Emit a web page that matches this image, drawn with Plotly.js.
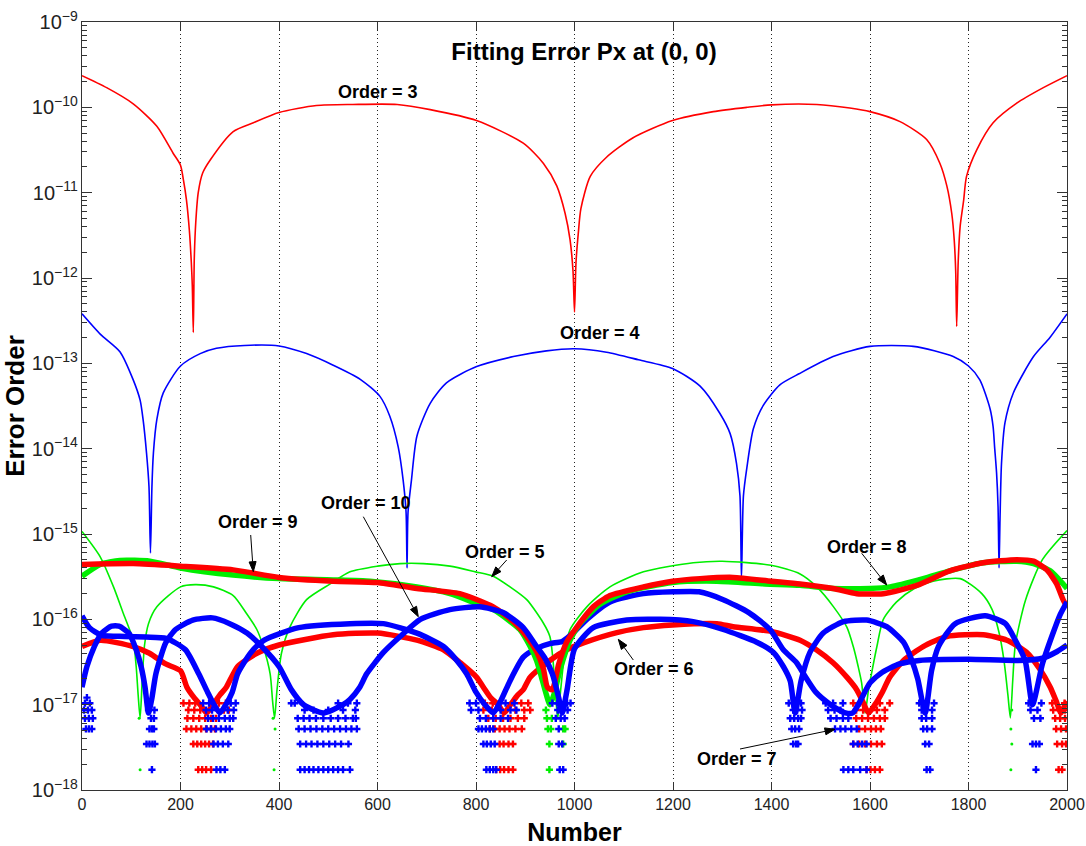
<!DOCTYPE html>
<html>
<head>
<meta charset="utf-8">
<script src="https://cdn.plot.ly/plotly-3.0.1.min.js"></script>
<style>html,body{margin:0;padding:0;background:#fff;}#chart{width:1086px;height:846px;}</style>
</head>
<body>
<div id="chart"></div>
<script>
// ---- Order 3 (red, thin) ----
const x3 = [0,50,104,152,185,200,206,212,218,222,224,226,228,231,236,245,260,307,348,400,476,550,640,707,801,896,937,964,981,991,997,1000,1003,1008,1013,1032,1065,1119,1199,1282,1350,1400,1492,1559,1600,1661,1715,1742,1756,1766,1771,1774,1776,1779,1783,1790,1796,1817,1850,1898,1952,2000];
const y3 = [2.35e-10,1.7e-10,1.1e-10,6e-11,2.9e-11,2.1e-11,1.4e-11,8.3e-12,3.6e-12,1.5e-12,8e-13,2.3e-13,1.7e-12,4.5e-12,1e-11,1.7e-11,2.4e-11,5.2e-11,6.6e-11,8.7e-11,1.05e-10,1.08e-10,1.08e-10,9.4e-11,7e-11,3.8e-11,2.2e-11,1.2e-11,5.7e-12,2.8e-12,1.2e-12,4e-13,1.5e-12,3.5e-12,6.5e-12,1.55e-11,2.6e-11,4.4e-11,7e-11,8.9e-11,1.0e-10,1.07e-10,1.08e-10,9.8e-11,8.9e-11,6.8e-11,4.2e-11,2.2e-11,1.2e-11,5.7e-12,2.8e-12,1.2e-12,2.7e-13,1.5e-12,4e-12,8e-12,1.55e-11,3.2e-11,6.6e-11,1.12e-10,1.7e-10,2.35e-10];

// ---- Order 4 (blue, thin) ----
const x4 = [0,37,77,104,118,124,131,136,139,142,145,152,165,200,240,273,330,400,456,510,565,605,625,642,652,658,660,662,669,680,707,740,800,876,943,1000,1065,1130,1199,1255,1295,1316,1329,1336,1339,1343,1350,1363,1383,1417,1457,1525,1600,1688,1769,1800,1823,1844,1850,1853,1857,1860,1862,1864,1867,1874,1891,1932,1965,2000];
const y4 = [3.8e-13,2.2e-13,1.37e-13,6.4e-14,3.7e-14,2.2e-14,8.9e-15,3.6e-15,6e-16,3.6e-15,8.9e-15,2.2e-14,4.5e-14,9.3e-14,1.3e-13,1.5e-13,1.62e-13,1.6e-13,1.3e-13,9.5e-14,6.5e-14,4.1e-14,2.4e-14,1.05e-14,4.3e-15,1.8e-15,4e-16,1.8e-15,4.3e-15,1.4e-14,3.4e-14,5.9e-14,9.1e-14,1.2e-13,1.4e-13,1.48e-13,1.35e-13,1.1e-13,8.7e-14,5.4e-14,2.6e-14,1.5e-14,6.7e-15,2.8e-15,3e-16,2.8e-15,6e-15,1.7e-14,3.2e-14,5.6e-14,7.6e-14,1.2e-13,1.58e-13,1.58e-13,1.2e-13,9.3e-14,6.4e-14,2.9e-14,1.8e-14,1.05e-14,5.2e-15,2.1e-15,4e-16,1.5e-15,6.7e-15,2e-14,4.5e-14,1.2e-13,2e-13,3.8e-13];

// ---- Order 5 (green, thin) ----
const x5 = [0,37,64,84,104,110,114,118,122,127,135,152,200,230,267,307,334,355,368,382,387,391,396,405,422,456,504,544,600,646,693,747,799,835,869,903,937,950,956,962,966,972,980,991,1025,1072,1140,1241,1300,1399,1458,1492,1526,1553,1566,1576,1583,1590,1597,1603,1614,1627,1654,1690,1728,1783,1827,1848,1862,1872,1880,1885,1890,1895,1916,1950,2000];
const y5 = [1.07e-15,5.4e-16,2.4e-16,1.17e-16,5.7e-17,2.8e-17,1.3e-17,7e-18,1.8e-17,5e-17,8.9e-17,1.4e-16,2.4e-16,2.55e-16,2.4e-16,1.9e-16,1.17e-16,7.6e-17,4.8e-17,2.3e-17,1.1e-17,7e-18,1.5e-17,4e-17,8.1e-17,1.7e-16,2.6e-16,3.6e-16,4.2e-16,4.5e-16,4.5e-16,4.2e-16,3.6e-16,3.2e-16,2.4e-16,1.7e-16,9e-17,6.3e-17,3.5e-17,1.2e-17,7e-18,1.5e-17,4e-17,7.6e-17,1.4e-16,2.4e-16,3.6e-16,4.6e-16,4.8e-16,4.3e-16,3.4e-16,2.4e-16,1.4e-16,8.1e-17,4.8e-17,2.8e-17,1.8e-17,8e-18,1.5e-17,2.3e-17,4.8e-17,1e-16,1.6e-16,2.3e-16,2.8e-16,3e-16,2e-16,1.3e-16,7e-17,3.3e-17,1.3e-17,7e-18,2e-17,5e-17,1.7e-16,5e-16,1.1e-15];

// ---- Order 6 (red, noisy) ----
const x6 = [0,37,104,137,170,200,213,228,240,253,266,280,293,316,355,400,510,600,680,734,768,801,815,830,845,857,870,885,896,910,950,984,1018,1086,1140,1199,1289,1322,1400,1458,1491,1525,1553,1573,1585,1597,1610,1625,1640,1668,1708,1756,1830,1878,1918,1945,1966,1978,1988,1996,2000];
const y6 = [4.8e-17,5.7e-17,4.8e-17,4e-17,3e-17,2.5e-17,1.6e-17,1.2e-17,1e-17,8e-18,1e-17,1.3e-17,1.6e-17,2.8e-17,4e-17,5e-17,6.6e-17,6.9e-17,5.7e-17,4.4e-17,3.1e-17,2.1e-17,1.6e-17,1.2e-17,1e-17,8e-18,1e-17,1.3e-17,1.5e-17,2.1e-17,3.3e-17,4.4e-17,5.3e-17,7e-17,8e-17,8.6e-17,8.9e-17,8.2e-17,7.2e-17,5.7e-17,4.4e-17,3.1e-17,2.1e-17,1.5e-17,1.1e-17,8e-18,1e-17,1.4e-17,2.1e-17,3.3e-17,4.8e-17,6.3e-17,6.6e-17,5.7e-17,4.1e-17,2.6e-17,1.6e-17,1.1e-17,8e-18,1e-17,1.1e-17];

// ---- Order 7 (blue, noisy) ----
const x7 = [0,15,40,87,130,171,210,237,255,268,280,292,305,316,343,370,440,544,612,680,734,761,781,800,818,835,850,869,896,924,950,975,998,1025,1072,1140,1200,1253,1302,1354,1397,1424,1451,1465,1490,1520,1550,1565,1580,1600,1625,1660,1700,1800,1900,1950,1980,2000];
const y7 = [1.1e-16,8e-17,6.5e-17,6.3e-17,6.2e-17,6e-17,4.4e-17,2.3e-17,1.4e-17,1e-17,8e-18,1e-17,1.4e-17,2.3e-17,4.1e-17,5.7e-17,8e-17,8.9e-17,8.9e-17,6.9e-17,4.8e-17,3.3e-17,2.3e-17,1.4e-17,1e-17,8e-18,1.1e-17,1.9e-17,3.6e-17,4.6e-17,5.2e-17,5.5e-17,7e-17,1e-16,1.6e-16,2e-16,2.1e-16,2.1e-16,1.7e-16,1.2e-16,7.6e-17,4.4e-17,3.1e-17,2.3e-17,1.4e-17,1e-17,8e-18,8e-18,1.1e-17,1.8e-17,2.4e-17,3e-17,3.3e-17,3.4e-17,3.3e-17,3.5e-17,4.2e-17,5e-17];

// ---- Order 8 (green, noisy) ----
const x8 = [0,37,77,138,200,307,400,510,585,680,747,799,835,869,889,910,923,933,943,950,958,971,991,1011,1052,1106,1199,1289,1387,1458,1525,1600,1641,1708,1762,1830,1898,1932,1966,1992,2000];
const y8 = [3.2e-16,4.4e-16,4.9e-16,4.8e-16,4e-16,3.3e-16,3e-16,2.9e-16,2.8e-16,2.4e-16,2e-16,1.55e-16,1.3e-16,9.5e-17,7.6e-17,4.8e-17,3.3e-17,2.1e-17,1.3e-17,1e-17,1.3e-17,2.6e-17,5.7e-17,8.9e-17,1.5e-16,2.1e-16,2.7e-16,2.8e-16,2.6e-16,2.5e-16,2.3e-16,2.3e-16,2.4e-16,3e-16,3.7e-16,4.6e-16,4.8e-16,4.5e-16,3.7e-16,2.6e-16,2.3e-16];

// ---- Order 9 (red, noisy) ----
const x9 = [0,104,200,307,400,510,600,680,767,835,876,903,923,937,945,955,968,984,1004,1038,1072,1140,1199,1255,1322,1400,1458,1525,1573,1627,1695,1762,1830,1898,1932,1959,1979,1992,2000];
const y9 = [4.4e-16,4.5e-16,4.2e-16,3.8e-16,3.1e-16,2.8e-16,2.7e-16,2.3e-16,2e-16,1.4e-16,9.4e-17,6.3e-17,4.2e-17,2.6e-17,1.6e-17,1.5e-17,3e-17,5.4e-17,8e-17,1.4e-16,1.9e-16,2.4e-16,2.8e-16,3e-16,3.1e-16,2.8e-16,2.6e-16,2.3e-16,2e-16,2e-16,2.5e-16,3.7e-16,4.6e-16,5e-16,4.8e-16,3.8e-16,2.6e-16,1.7e-16,1.4e-16];

// ---- Order 10 (blue, noisy) ----
const x10 = [0,10,25,40,60,75,95,110,120,128,135,142,150,170,190,225,265,300,335,365,400,425,450,490,530,544,564,578,612,646,687,747,807,855,896,923,940,955,968,975,985,1000,1038,1106,1174,1241,1302,1370,1404,1424,1438,1448,1460,1478,1505,1546,1593,1634,1668,1685,1697,1712,1725,1739,1773,1834,1875,1895,1915,1930,1950,1970,1985,2000];
const y10 = [1.6e-17,2.8e-17,4.8e-17,6.9e-17,8.3e-17,8.3e-17,6.9e-17,4.4e-17,2.8e-17,1.6e-17,8e-18,1.2e-17,2.3e-17,5.3e-17,7.6e-17,9.8e-17,1.04e-16,8.9e-17,6.9e-17,4.8e-17,2.8e-17,1.5e-17,1e-17,8e-18,1e-17,1.15e-17,1.6e-17,2.3e-17,4.1e-17,6.3e-17,1e-16,1.3e-16,1.4e-16,1.2e-16,8e-17,4.8e-17,3.5e-17,2.3e-17,1.2e-17,8e-18,1.5e-17,4.5e-17,8e-17,9.8e-17,1e-16,9.4e-17,7.6e-17,5.4e-17,4.1e-17,2.8e-17,1.9e-17,8e-18,1.9e-17,4.1e-17,6.9e-17,9.4e-17,9.8e-17,8.2e-17,5.4e-17,3.3e-17,2e-17,8e-18,2.5e-17,4.8e-17,8.9e-17,1.1e-16,8.9e-17,5.7e-17,3.3e-17,1e-17,3e-17,6.5e-17,1.1e-16,1.6e-16];

// ---- quantised low-level rows near the dips (x positions per level) ----
const rowLevels = [1.73e-18,3.46e-18,5.19e-18,6.92e-18,8.65e-18,1.04e-17,1.21e-17];
const rows6 = [
  [236,244,252,262,841,849,857,866,875,1593,1601,1610,1620,1983,1990],
  [226,234,242,250,258,266,848,856,866,875,1566,1578,1590,1602,1614,1624,1980,1990,1998],
  [212,222,232,242,252,262,270,828,838,848,858,868,880,893,1578,1590,1602,1612,1622,1978,1988,1998],
  [214,226,238,250,262,272,825,840,855,870,885,898,1572,1584,1596,1608,1620,1630,1976,1986,1996],
  [216,228,240,276,288,298,815,832,880,898,910,1572,1586,1614,1630,1972,1984,1996],
  [206,218,230,278,292,818,834,892,906,1566,1580,1620,1640,1970,1995],
  []
];
const rows7 = [
  [273,281,290,821,828,835,841,1546,1556,1566,1580,1593],
  [267,276,286,297,815,822,830,838,1566,1575,1584,1593],
  [253,262,272,282,292,300,805,812,820,828,835,1529,1540,1550,1562,1573],
  [256,266,278,290,300,307,808,820,835,850,865,1520,1532,1545,1556],
  [252,264,296,308,790,805,850,870,882,1515,1528,1540],
  [246,258,302,312,787,800,860,878,1510,1525,1545],
  []
];
const rows10 = [
  [142,443,452,461,470,480,490,500,510,520,530,544,970,977,1715,1722,1937],
  [131,137,143,148,443,455,466,478,490,502,514,526,541,968,975,1444,1450,1454,1712,1720,1930,1937,1944],
  [8,14,20,137,142,146,440,452,464,476,488,500,512,524,536,547,558,968,1441,1448,1456,1708,1716,1726],
  [6,14,22,140,146,438,450,462,475,490,505,520,535,550,556,962,972,980,1438,1446,1454,1460,1705,1714,1726,1933,1946],
  [4,12,20,135,147,452,470,500,530,555,966,976,986,1444,1452,1462,1705,1726,1926,1940],
  [6,16,425,432,520,540,558,955,965,985,992,1435,1448,1460,1700,1730,1922,1948],
  [10]
];
const rows8 = [[949],[949,977],[946,952,977,981],[944,954],[942],[],[]];
const rows5 = [[118,390,1886],[1888],[392,1886],[116,388],[1888],[],[]];

// ---- text labels and arrows (page pixel positions) ----
const labelTexts = ['Order = 3','Order = 4','Order = 9','Order = 10','Order = 5','Order = 6','Order = 8','Order = 7'];
const labelPx = [[378,92],[600,333],[257.5,522],[366,503],[504.7,552],[654,669],[867,547],[737,759]];
const arrowTails = [[250.7,535],[363.3,516.7],[506.7,560],[633.3,660],[861.7,553.3],[740,749]];
const arrowTips  = [[253.3,571.7],[418.3,616.7],[491.7,576.7],[618.3,639.3],[886.7,585],[835,729.3]];

function rowPoints(rows){
  const xs=[], ys=[];
  rows.forEach((list,i)=>list.forEach(v=>{xs.push(v); ys.push(rowLevels[i]);}));
  return {x:xs, y:ys};
}

const RED='#ff0000', BLUE='#0000ff', GREEN='#00ee00';
function thin(x,y,c){return {x:x,y:y,type:'scatter',mode:'lines',line:{color:c,width:1.6,shape:'spline',smoothing:0.7},hoverinfo:'skip'};}
function thick(x,y,c){return {x:x,y:y,type:'scatter',mode:'lines',line:{color:c,width:5.5,shape:'spline',smoothing:0.6},hoverinfo:'skip'};}
function dots(rows,c,sym,size){const p=rowPoints(rows);return {x:p.x,y:p.y,type:'scatter',mode:'markers',marker:{color:c,symbol:sym,size:size,line:{width:0}},hoverinfo:'skip'};}

const data = [
  thin(x3,y3,RED),
  thin(x4,y4,BLUE),
  thin(x5,y5,GREEN),
  dots(rows5,GREEN,'circle',3),
  thick(x6,y6,RED), dots(rows6,RED,'cross',6),
  thick(x7,y7,BLUE), dots(rows7,BLUE,'cross',6),
  thick(x8,y8,GREEN), dots(rows8,GREEN,'cross',6),
  thick(x9,y9,RED),
  thick(x10,y10,BLUE), dots(rows10,BLUE,'cross',6)
];

const L=82, T=22, W=985, H=768;
const px2x = p => (p-L)/W;
const py2y = p => (T+H-p)/H;

const labelFont = {family:'Liberation Sans, Arial, sans-serif', size:18, color:'#000'};
const annotations = labelTexts.map((t,i)=>({text:'<b>'+t+'</b>',xref:'paper',yref:'paper',x:px2x(labelPx[i][0]),y:py2y(labelPx[i][1]),xanchor:'center',yanchor:'middle',showarrow:false,font:labelFont}));

const shapes = [];
arrowTails.forEach((s,i)=>{
  const t = arrowTips[i];
  const dx=t[0]-s[0], dy=t[1]-s[1], len=Math.hypot(dx,dy);
  const ux=dx/len, uy=dy/len, hl=10, hw=3.5;
  const bx=t[0]-ux*hl, by=t[1]-uy*hl;
  shapes.push({type:'line',xref:'paper',yref:'paper',x0:px2x(s[0]),y0:py2y(s[1]),x1:px2x(bx),y1:py2y(by),line:{color:'#000',width:1}});
  const p1=[bx-uy*hw, by+ux*hw], p2=[bx+uy*hw, by-ux*hw];
  shapes.push({type:'path',xref:'paper',yref:'paper',
    path:'M '+px2x(t[0])+' '+py2y(t[1])+' L '+px2x(p1[0])+' '+py2y(p1[1])+' L '+px2x(p2[0])+' '+py2y(p2[1])+' Z',
    fillcolor:'#000',line:{color:'#000',width:1}});
});

const layout = {
  width:1086, height:846,
  margin:{l:L,r:1086-L-W,t:T,b:846-T-H},
  paper_bgcolor:'#ffffff', plot_bgcolor:'#ffffff',
  showlegend:false, hovermode:false,
  font:{family:'Liberation Sans, Arial, sans-serif', color:'#000'},
  title:{text:'<b>Fitting Error Px at (0, 0)</b>', font:{size:24,color:'#000'}, xref:'container', yref:'container', x:584/1086, xanchor:'center', y:1-52/846, yanchor:'middle'},
  xaxis:{range:[0,2000], tick0:0, dtick:200, ticks:'inside', ticklen:8, tickcolor:'#333', showline:true, linecolor:'#333', linewidth:1, mirror:'ticks',
         showgrid:true, gridcolor:'#222', griddash:'1px,3px', gridwidth:1, zeroline:false, tickfont:{size:16,color:'#222'},
         title:{text:'<b>Number</b>', font:{size:25,color:'#000'}}},
  yaxis:{type:'log', range:[-18,-9], dtick:1, exponentformat:'power', ticks:'inside', ticklen:10, tickcolor:'#333',
         minor:{ticks:'inside', ticklen:5, tickcolor:'#333', showgrid:false},
         showline:true, linecolor:'#333', linewidth:1, mirror:'ticks', showgrid:false, zeroline:false, tickfont:{size:16,color:'#222'},
         title:{text:'<b>Error Order</b>', font:{size:26,color:'#000'}}},
  annotations:annotations,
  shapes:shapes
};

Plotly.newPlot('chart', data, layout, {displayModeBar:false, staticPlot:true});
</script>
</body>
</html>
